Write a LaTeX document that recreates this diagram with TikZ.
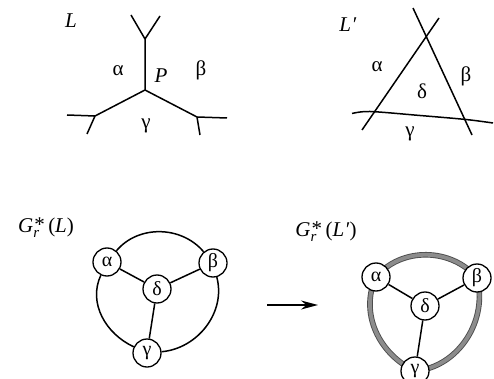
\documentclass[tikz,border=0pt]{standalone}
\usepackage{fontspec}
\setmainfont{Liberation Serif}
\usetikzlibrary{arrows.meta}
\tikzset{
  lbl/.style={inner sep=0pt, font=\fontsize{21}{23}\selectfont},
  vtx/.style={circle, draw, line width=1.3pt, fill=white, minimum size=28pt, inner sep=0pt, font=\fontsize{20}{22}\selectfont},
  ln/.style={line width=1.5pt},
  ring/.style={line width=0.9pt, draw=black!70, double=black!45, double distance=3.8pt},
}
\newcommand{\Gstar}[1]{\textit{G}\rlap{\raisebox{-0.5ex}{\fontsize{15}{15}\selectfont\textit{r}}}\hspace{1pt}\raisebox{0.1ex}{*}\,(\textit{#1})}
\begin{document}
\begin{tikzpicture}[x=1pt,y=-1pt]
\useasboundingbox (0,0) rectangle (494,379);
% ---------- panel L
\node[lbl] (Ltitle) at (71,21) {\textit{L}};
\coordinate (P) at (145,90);
\coordinate (up) at (145,39);
\coordinate (lf) at (95,116);
\coordinate (rt) at (197,117);
\draw[ln] (P) -- (up) (P) -- (lf) (P) -- (rt);
\draw[ln] (up) -- (131,15) (up) -- (160,16);
\draw[ln] (lf) -- (67,115) (lf) -- (87,134);
\draw[ln] (rt) -- (227,118) (rt) -- (200,135);
\node[lbl] (a1) at (118,71) {α};
\node[lbl] (p1) at (161,76) {\textit{P}};
\node[lbl] (b1) at (201,70) {β};
\node[lbl] (g1) at (146,126) {γ};
% ---------- panel L'
\node[lbl] (Lptitle) at (348,25) {\textit{L\kern0.5pt′}};
\draw[ln] (362,130) -- (439,18);
\draw[ln] (413,8) -- (472,135);
\draw[ln] plot[smooth] coordinates {(352,113.5) (370,111.5) (420,115.5) (466,119.5) (493,123)};
\node[lbl] (a2) at (377,67) {α};
\node[lbl] (b2) at (466,76) {β};
\node[lbl] (d2) at (422,91) {δ};
\node[lbl] (g2) at (410,134) {γ};
% ---------- panel G*(L)
\node[lbl] (GLt) at (46,228) {\Gstar{L}};
\node[vtx] (A) at (107,262) {α};
\node[vtx] (B) at (213,263) {β};
\node[vtx] (D) at (157,289) {δ};
\node[vtx] (C) at (147,353) {γ};
\draw[ln] (A) to[out=50,in=130] (B);
\draw[ln] (A) to[out=245,in=155] (C);
\draw[ln] (B) to[out=-75,in=5] (C);
\draw[ln] (A) -- (D) (D) -- (B) (D) -- (C);
% ---------- arrow
\coordinate (arS) at (267,305);
\coordinate (arE) at (318,305);
\draw[ln, -{Stealth[length=17pt,width=9pt]}] (arS) -- (arE);
% ---------- panel G*(L')
\node[lbl] (GLpt) at (326,232) {\Gstar{L\kern0.5pt′}};
\coordinate (A2) at (376,277);
\coordinate (B2) at (477,278);
\coordinate (C2) at (415,371);
\draw[ring] (A2) to[out=50,in=130] (B2);
\draw[ring] (A2) to[out=245,in=155] (C2);
\draw[ring] (B2) to[out=-75,in=5] (C2);
\node[vtx] (A2n) at (A2) {α};
\node[vtx] (B2n) at (B2) {β};
\node[vtx] (D2n) at (425,306) {δ};
\node[vtx] (C2n) at (C2) {γ};
\draw[ln] (A2n) -- (D2n) (D2n) -- (B2n) (D2n) -- (C2n);
\end{tikzpicture}
\end{document}
